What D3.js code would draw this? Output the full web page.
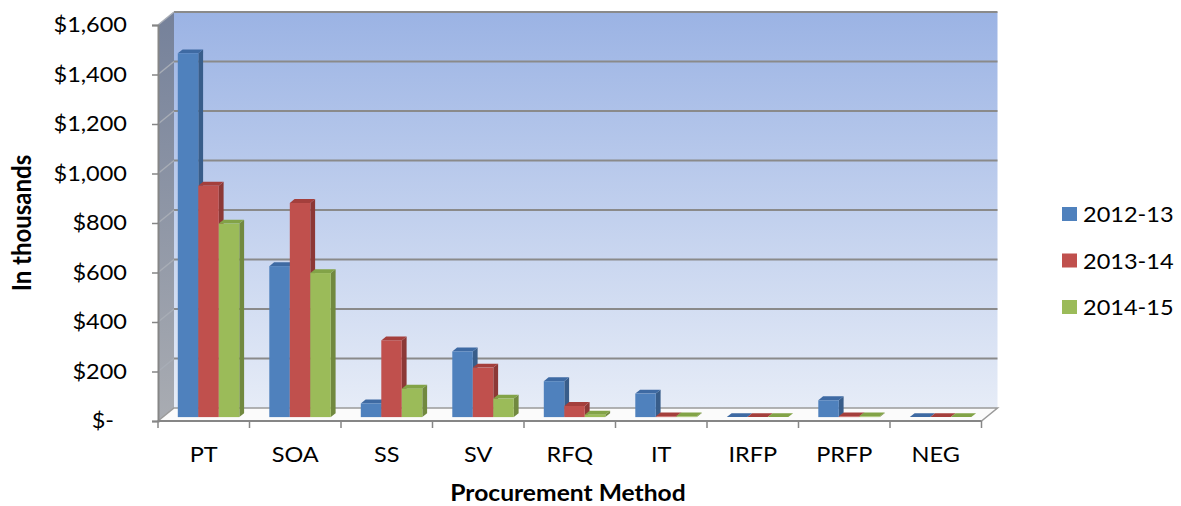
<!DOCTYPE html>
<html>
<head>
<meta charset="utf-8">
<script src="https://cdn.jsdelivr.net/npm/d3@7"></script>
<style>
  body { margin: 0; background: #fff; }
  svg text { font-family: Lato, "Open Sans", sans-serif; fill: #000; }
</style>
</head>
<body>
<div id="chart"></div>
<script>
// data (in thousands of dollars)
const categories = ["PT", "SOA", "SS", "SV", "RFQ", "IT", "IRFP", "PRFP", "NEG"];
const series = ["2012-13", "2013-14", "2014-15"];
const values2012 = [1470, 610, 55, 265, 145, 95, 0, 68, 0];
const values2013 = [935, 865, 310, 200, 45, 3, 0, 3, 0];
const values2014 = [782, 582, 115, 75, 10, 3, 0, 3, 0];
const yTicks = [0, 200, 400, 600, 800, 1000, 1200, 1400, 1600];

const colors = ["#4f81bd", "#c0504d", "#9bbb59"];
const sideColors = ["#385d8a", "#8c3836", "#71893f"];
const topColors = ["#3e6aa3", "#a43f3c", "#82a347"];

const width = 1181, height = 506;
const DX = 16, DY = -13;          // depth of the 3d box
const barD0 = 0.3, barD1 = 0.6;   // bar depth slice (fraction of box depth)
const stretch = 1.12;             // the picture is a bit wider than tall

const svg = d3.select("#chart").append("svg")
    .attr("width", width)
    .attr("height", height);

const x = d3.scaleBand(categories, [158, 981.5]);
const xSub = d3.scaleBand(series, [15, 76.5]);
const y = d3.scaleLinear([0, 1600], [421, 25]);

const defs = svg.append("defs");
const gBack = defs.append("linearGradient").attr("id", "backGrad")
    .attr("x1", 0).attr("y1", 0).attr("x2", 0).attr("y2", 1);
gBack.append("stop").attr("offset", "0%").attr("stop-color", "#9bb3e4");
gBack.append("stop").attr("offset", "100%").attr("stop-color", "#e6ecf7");
const gLeft = defs.append("linearGradient").attr("id", "leftGrad")
    .attr("x1", 0).attr("y1", 0).attr("x2", 0).attr("y2", 1);
gLeft.append("stop").attr("offset", "0%").attr("stop-color", "#75819a");
gLeft.append("stop").attr("offset", "100%").attr("stop-color", "#a9acb2");

const pt = (px, py) => px + "," + py;

// back wall
svg.append("rect")
    .attr("x", x.range()[0] + DX).attr("y", y(1600) + DY)
    .attr("width", x.range()[1] - x.range()[0]).attr("height", y(0) - y(1600))
    .attr("fill", "url(#backGrad)");

// left wall
svg.append("polygon")
    .attr("points", [pt(158, y(1600)), pt(158 + DX, y(1600) + DY), pt(158 + DX, y(0) + DY), pt(158, y(0))].join(" "))
    .attr("fill", "url(#leftGrad)");

// floor
const xr = x.range()[1];
svg.append("polygon")
    .attr("points", [pt(158, y(0)), pt(158 + DX, y(0) + DY), pt(xr + DX, y(0) + DY), pt(xr, y(0))].join(" "))
    .attr("fill", "#fbfbfb").attr("stroke", "#9a9a9a").attr("stroke-width", 1.5);

// gridlines on the back and left walls
svg.append("g").selectAll("line").data(yTicks.slice(1)).join("line")
    .attr("x1", 158 + DX).attr("x2", xr + DX)
    .attr("y1", d => y(d) + DY).attr("y2", d => y(d) + DY)
    .attr("stroke", "#8a8a8a").attr("stroke-width", 2);
svg.append("g").selectAll("line").data(yTicks.slice(1)).join("line")
    .attr("x1", 158).attr("x2", 158 + DX)
    .attr("y1", d => y(d)).attr("y2", d => y(d) + DY)
    .attr("stroke", "#a8adb6").attr("stroke-width", 1.5);

// bars
const rows = categories.map((c, i) => [values2012[i], values2013[i], values2014[i]]);
const ox = DX * barD0, oy = DY * barD0;
const ddx = DX * (barD1 - barD0), ddy = DY * (barD1 - barD0);
const bars = svg.append("g");
categories.forEach((c, i) => {
    series.forEach((s, j) => {
        const v = rows[i][j];
        const x0 = x(c) + xSub(s) + ox, x1 = x0 + xSub.bandwidth();
        const yt = y(v) + oy, yb = y(0) + oy;
        const g = bars.append("g");
        g.append("polygon")
            .attr("points", [pt(x1, yb), pt(x1 + ddx, yb + ddy), pt(x1 + ddx, yt + ddy), pt(x1, yt)].join(" "))
            .attr("fill", sideColors[j]);
        g.append("polygon")
            .attr("points", [pt(x0, yt), pt(x0 + ddx, yt + ddy), pt(x1 + ddx, yt + ddy), pt(x1, yt)].join(" "))
            .attr("fill", topColors[j]);
        g.append("rect")
            .attr("x", x0).attr("y", yt)
            .attr("width", x1 - x0).attr("height", yb - yt)
            .attr("fill", colors[j]);
    });
});

// y axis
const yAxis = svg.append("g")
    .attr("transform", "translate(158,0)")
    .call(d3.axisLeft(y).tickValues(yTicks).tickSize(6).tickPadding(25)
        .tickFormat(d => d === 0 ? "$-" : "$" + d3.format(",")(d)));
yAxis.select(".domain").attr("stroke", "#868686").attr("stroke-width", 2);
yAxis.selectAll(".tick line").attr("stroke", "#868686").attr("stroke-width", 1.5);
yAxis.selectAll(".tick text")
    .attr("font-size", 21).attr("font-family", null)
    .attr("transform", d => `translate(${d === 0 ? -13 : 0},0) scale(${stretch},1)`)
    .attr("x", -31 / stretch);

// x axis: front floor edge with ticks at category boundaries
const xa = svg.append("g");
xa.append("line").attr("x1", 158).attr("x2", xr).attr("y1", y(0)).attr("y2", y(0))
    .attr("stroke", "#868686").attr("stroke-width", 2);
xa.selectAll(".b").data(categories.concat([null])).join("line")
    .attr("x1", (d, i) => 158 + i * x.step()).attr("x2", (d, i) => 158 + i * x.step())
    .attr("y1", y(0)).attr("y2", y(0) + 7)
    .attr("stroke", "#868686").attr("stroke-width", 1.5);
xa.selectAll("text").data(categories).join("text")
    .attr("transform", d => `translate(${x(d) + x.bandwidth() / 2},462) scale(${stretch},1)`)
    .attr("text-anchor", "middle").attr("font-size", 21)
    .text(d => d);

// axis titles
svg.append("text")
    .attr("transform", `translate(568,501) scale(${stretch},1)`)
    .attr("text-anchor", "middle").attr("font-size", 22).attr("font-weight", "bold")
    .text("Procurement Method");
svg.append("text")
    .attr("transform", `translate(31,223) rotate(-90) scale(1,${stretch})`)
    .attr("text-anchor", "middle").attr("font-size", 24).attr("font-weight", "bold")
    .text("In thousands");

// legend
const legend = svg.append("g").selectAll("g").data(series).join("g")
    .attr("transform", (d, i) => `translate(1062,${207 + i * 46.5})`);
legend.append("rect").attr("width", 15).attr("height", 14).attr("fill", (d, i) => colors[i]);
legend.append("text")
    .attr("transform", `translate(21,15) scale(${stretch},1)`)
    .attr("font-size", 21)
    .text(d => d);
</script>
</body>
</html>
